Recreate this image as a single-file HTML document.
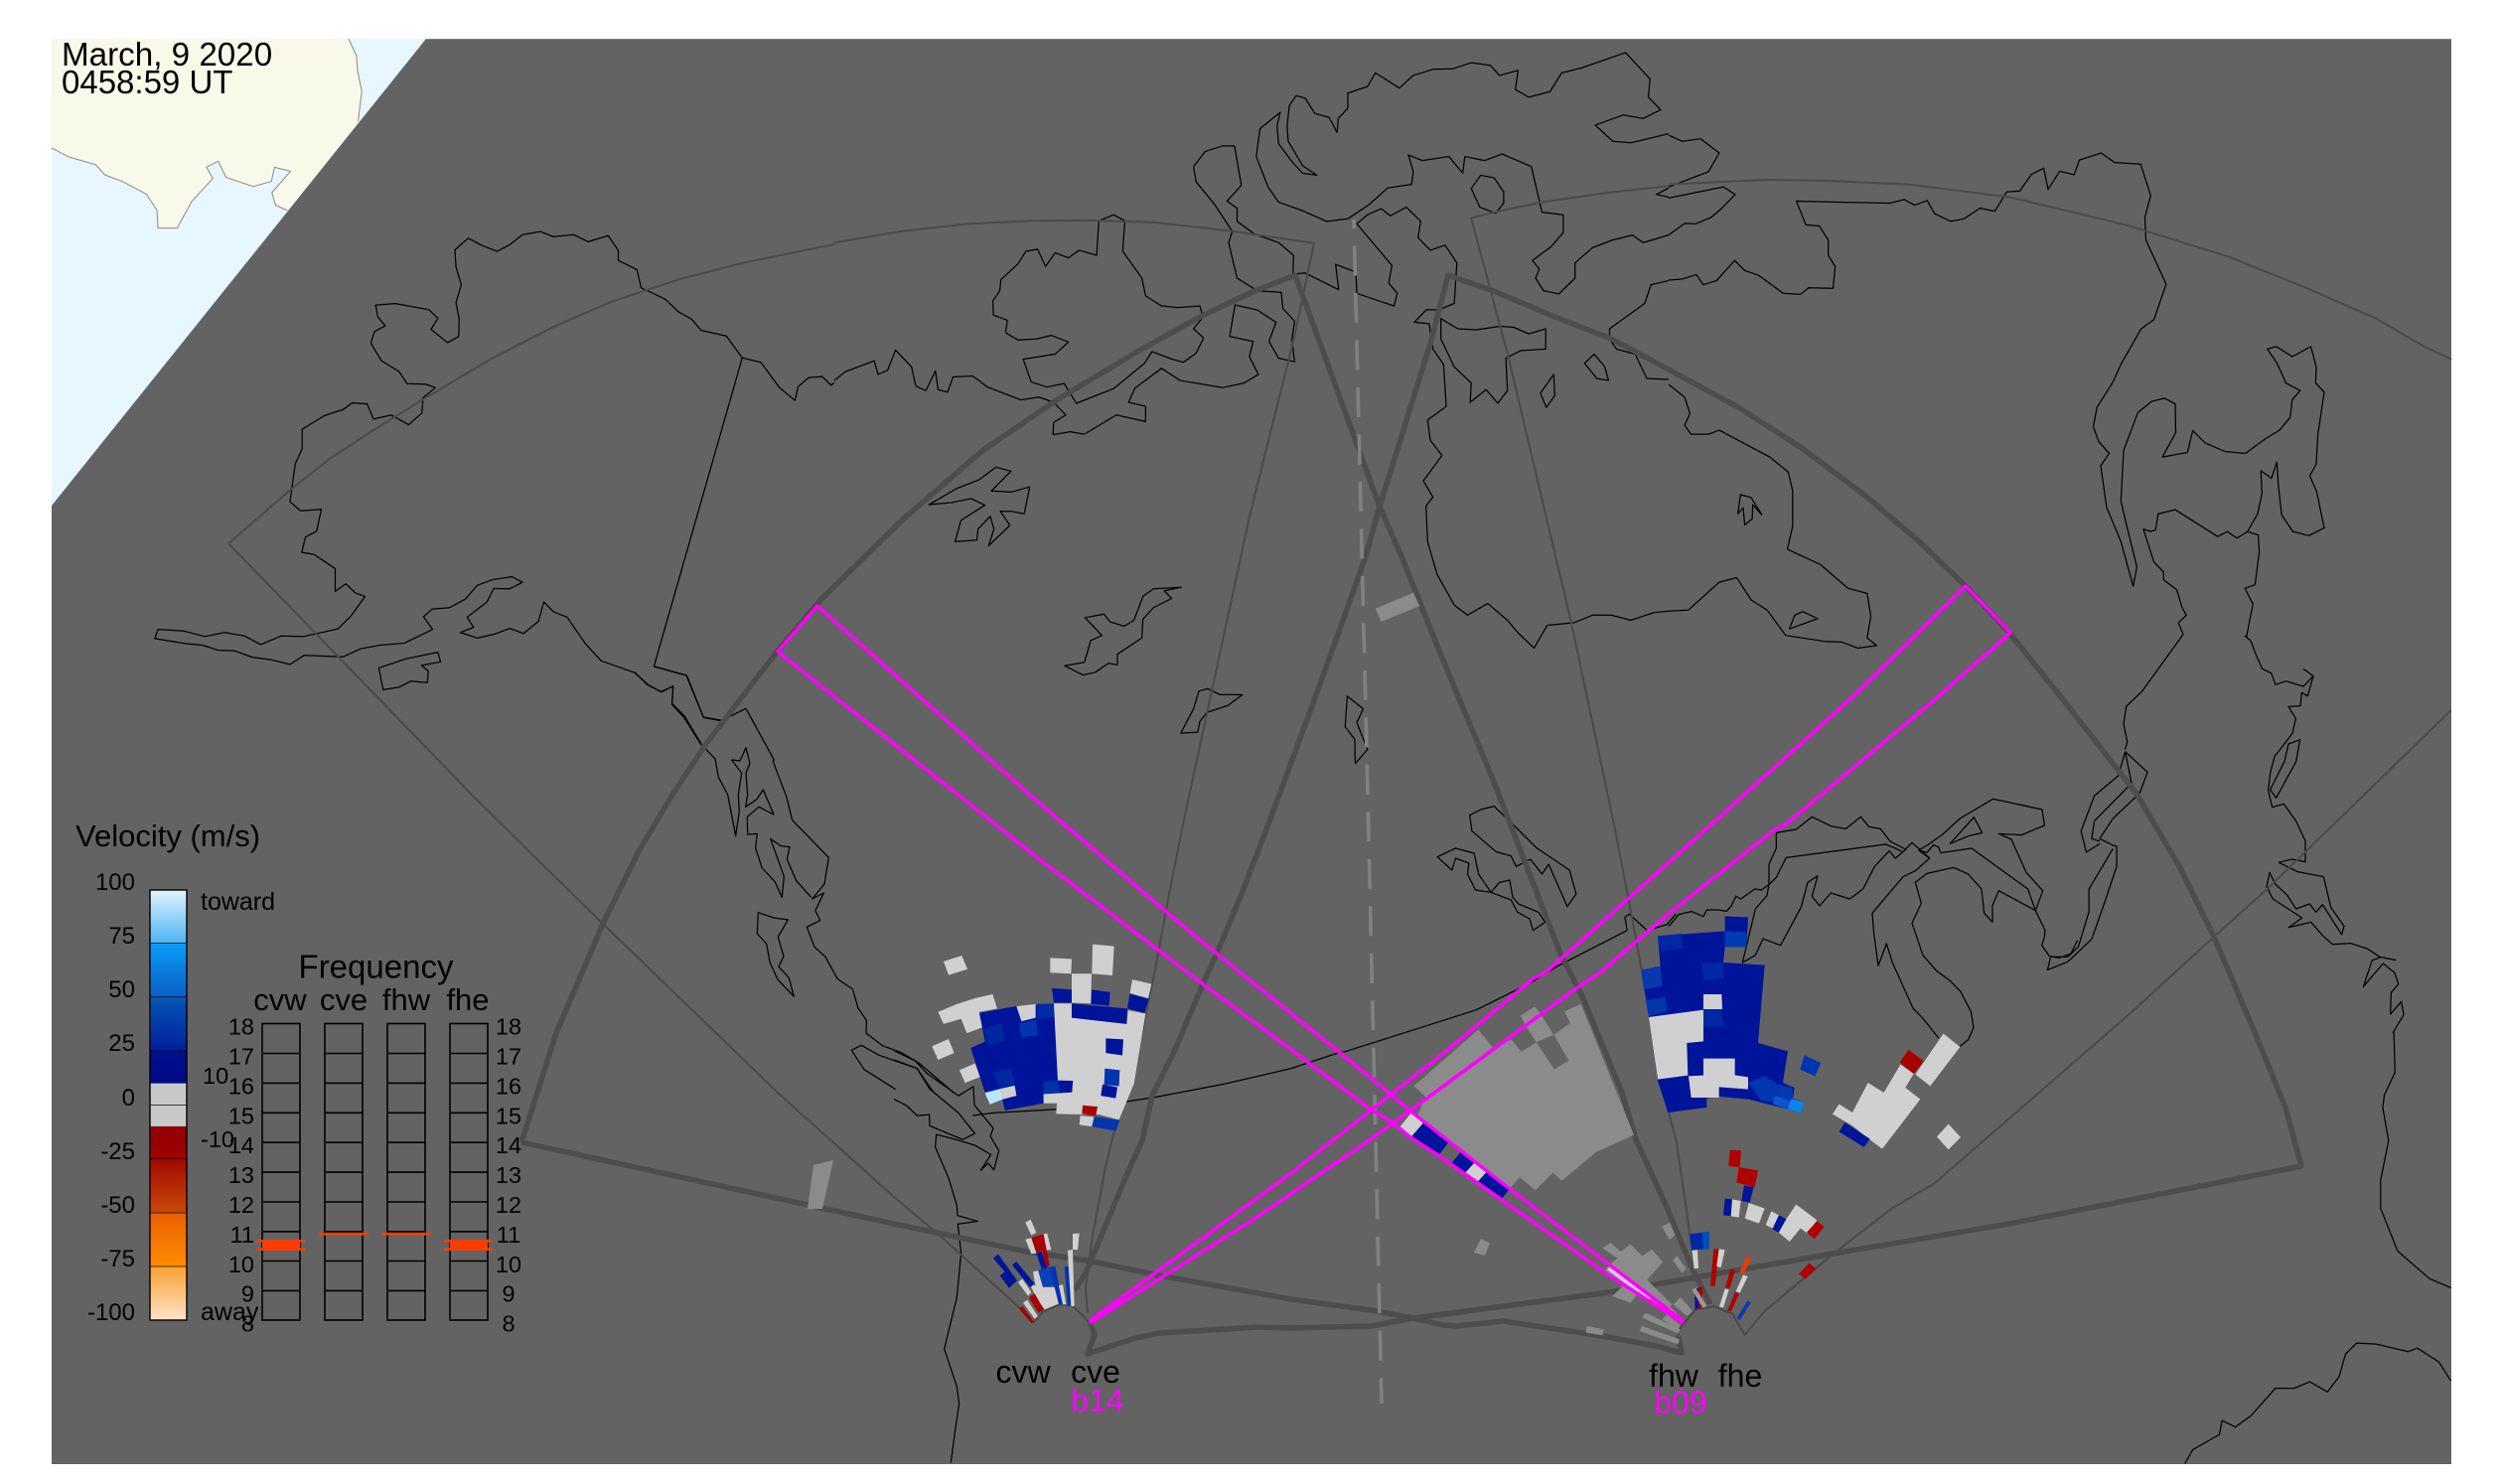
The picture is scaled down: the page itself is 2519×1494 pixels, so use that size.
<!DOCTYPE html>
<html>
<head>
<meta charset="utf-8">
<style>
html,body{margin:0;padding:0;background:#fff;width:2519px;height:1494px;overflow:hidden}
svg{display:block}
text{font-family:"Liberation Sans",sans-serif;fill:#000}
.c{fill:none;stroke:#000;stroke-width:1.25;vector-effect:non-scaling-stroke;stroke-linejoin:round}
.t{fill:none;stroke:#4a4a4a;stroke-width:2;vector-effect:non-scaling-stroke;stroke-linejoin:round}
.k{fill:none;stroke:#4d4d4d;stroke-width:5.5;stroke-linejoin:round}
.m{fill:none;stroke:#ff00ff;stroke-width:3.6;stroke-linejoin:round}
.g{fill:#d0d0d0}.n{fill:#00149a}.b{fill:#0034ae}.r{fill:#a80000}.d{fill:#8b8b8b}
.f{fill:none;stroke:#000;stroke-width:1.6}
</style>
</head>
<body>
<svg width="2519" height="1494" viewBox="0 0 2519 1494" xmlns="http://www.w3.org/2000/svg">
<defs>
<linearGradient id="cb" x1="0" y1="0" x2="0" y2="1">
<stop offset="0" stop-color="#e2f4ff"/><stop offset=".124" stop-color="#4db2f0"/><stop offset=".125" stop-color="#0a9cf8"/>
<stop offset=".249" stop-color="#0a60c4"/><stop offset=".25" stop-color="#0855b5"/><stop offset=".374" stop-color="#00209a"/>
<stop offset=".375" stop-color="#00108c"/><stop offset=".449" stop-color="#000a85"/><stop offset=".45" stop-color="#c8c8c8"/>
<stop offset=".549" stop-color="#c8c8c8"/><stop offset=".55" stop-color="#8f0000"/><stop offset=".625" stop-color="#a00000"/>
<stop offset=".626" stop-color="#a00800"/><stop offset=".749" stop-color="#c84a08"/><stop offset=".75" stop-color="#e85f00"/>
<stop offset=".874" stop-color="#ff8c00"/><stop offset=".875" stop-color="#f9a030"/><stop offset="1" stop-color="#ffe4c8"/>
</linearGradient>
</defs>

<!-- sea and land -->
<rect x="52" y="39" width="2416" height="1435" fill="#e8f6ff"/>
<g transform="scale(.5357,.5102)">
<polygon fill="#f8f9e9" points="97,76 655,76 670,110 672,140 680,180 673,240 540,415 518,405 511,380 546,338 516,330 510,358 476,368 425,350 410,318 388,330 400,352 360,398 333,450 297,450 295,415 275,383 230,358 197,345 180,325 130,310 97,292"/>
<polyline fill="none" stroke="#8a8a8a" stroke-width="1" vector-effect="non-scaling-stroke" points="655,76 670,110 672,140 680,180 673,240"/>
<polyline fill="none" stroke="#8a8a8a" stroke-width="1" vector-effect="non-scaling-stroke" points="540,415 518,405 511,380 546,338 516,330 510,358 476,368 425,350 410,318 388,330 400,352 360,398 333,450 297,450 295,415 275,383 230,358 197,345 180,325 130,310 97,292"/>
</g>
<polygon fill="#636363" points="429,39 2468,39 2468,1474 52,1474 52,509"/>
<line x1="429" y1="39.5" x2="2468" y2="39.5" stroke="#808080" stroke-width="1"/>

<!-- coast z5 -->
<g transform="scale(.5357,.5102)">
<polyline class="c" points="1568,755 1562,760 1545,743 1520,745 1500,763 1494,790 1465,765 1430,715 1395,706 1365,663 1318,652 1300,630 1275,615 1250,590 1205,568 1197,532 1162,514 1162,494 1143,465 1105,477 1078,463 1040,467 1016,457 982,463 958,483 934,496 905,484 880,470 855,493 857,527 867,562 857,597 863,630 862,664 841,676 810,650 823,628 806,611 743,599 706,602 710,625 724,643 704,654 697,677 717,712 750,733 765,757 800,758 818,765 795,785 793,815 768,838 735,819 702,827 690,797 662,795 645,808 610,820 568,847 568,885 555,915 545,990 565,1008 604,1005 595,1048 574,1060 567,1090 590,1094 630,1122 630,1167 650,1152 668,1170 686,1177 660,1215 635,1241 570,1256 528,1255 490,1272 460,1255 422,1248 385,1256 345,1245 297,1242 291,1260 350,1270 380,1273 410,1283 440,1284 475,1297 510,1302 545,1311 572,1293 645,1296 678,1280 715,1273 760,1269 813,1242 796,1217 812,1202 845,1199 875,1182 897,1155 925,1144 962,1138 982,1149 958,1162 928,1161 915,1188 878,1218 890,1238 865,1248 897,1259 930,1251 958,1240 984,1250 1012,1226 1022,1188 1040,1207 1066,1218 1100,1270 1130,1304 1192,1327 1218,1351 1242,1365 1265,1354 1263,1390 1285,1415 1318,1470"/>
<polyline class="c" points="1395,706 1229,1315 1291,1333 1322,1415 1355,1421"/>
<polygon class="c" points="712,1318 763,1300 823,1287 828,1306 792,1313 805,1324 803,1347 772,1344 750,1356 720,1361"/>
</g>

<!-- coast z9 -->
<g transform="translate(560,600) scale(.33333)">
<polyline class="c" points="297,213 393,240 445,367 498,377"/>
<polyline class="c" points="522,365 573,340 658,495 655,500 695,605 713,677 823,790 810,870 773,915 808,897 783,950 797,980 757,1000 780,1060 813,1090 850,1157 895,1187 912,1245 937,1282 936,1320 985,1358 1040,1378 1095,1410 1200,1500"/>
<polyline class="c" points="237,230 275,268 318,290 353,272 350,325 387,362 440,450 480,492 490,547 518,600 542,725 553,650 550,600 560,535 530,495 555,498 573,458 585,505 573,535 578,600 572,637 605,615 625,585 657,660 612,637 577,667 578,720 607,718 602,762 622,822 660,862 682,910 688,847 647,733 678,755 705,758 697,795 725,860 770,910"/>
<polygon class="c" points="610,956 657,972 700,978 670,1030 687,1088 672,1120 703,1153 718,1210 668,1157 645,1105 635,1050 607,1020"/>
<polyline class="c" points="1140,1500 1090,1427 975,1387 922,1357 892,1372 930,1430 1025,1490"/>
</g>

<!-- coast z2 -->
<g transform="translate(900,900) scale(.33333,.34435)">
<polyline class="c" points="0,458 65,488 100,525 195,590 240,563 243,617 300,685 291,708 317,750 302,807 285,787 262,808 293,762 245,735 195,720 128,703 125,740 165,830 190,910 192,940 253,957 193,965 203,1050 190,1180 152,1330 190,1440 197,1490 185,1568 172,1663"/>
<polyline class="c" points="0,485 70,510 108,570 195,640 240,695 245,700 208,718 108,678 107,645 70,648 40,620 0,600"/>
<polyline class="c" points="237,648 300,640 570,625 715,605 785,595 1000,555 1200,510 1356,460"/>
</g>

<!-- coast z6 -->
<g transform="translate(840,30) scale(.5357,.5102)">
<polyline class="c" points="0,692 20,675 75,653 82,680 100,672 115,632 145,665 153,703 172,712 190,673 195,710 213,715 223,685 260,683 288,705 350,730 385,725 412,735 435,760 412,775 411,799 443,793 470,798 530,760 585,773 585,743 553,735 565,707 615,668 650,692 730,706 770,697 797,680 780,645 787,615 743,605 753,543 795,553 830,577 817,615 835,648 865,655 860,610 865,575 843,550 840,518 795,515 757,490 741,420 748,398 715,345 680,300 675,270 697,240 730,229 752,229 765,307 738,338 757,352 757,378 790,403 835,420 863,445 862,482 885,480 948,513 942,463 980,478 982,520 1010,530 1052,545 1058,520 1042,500 1048,465 982,383 1002,365 1028,353 1045,367 1075,350 1102,378 1097,410 1120,435 1148,425 1170,460 1165,540 1135,553 1113,552 1090,577 1118,580 1125,630 1145,660 1150,743 1115,770 1120,810 1142,840 1107,890 1125,922 1112,940 1115,1010 1133,1075 1165,1135 1190,1155 1228,1132 1265,1165 1285,1190 1315,1220 1340,1175 1390,1170 1425,1155 1460,1155 1497,1165 1540,1150 1568,1147"/>
<polygon class="c" points="355,650 370,695 400,705 432,698 455,737 525,708 583,658 597,635 635,650 656,656 680,638 694,608 675,590 693,567 687,545 645,548 615,545 585,525 578,490 542,437 546,377 525,365 497,377 493,445 460,435 440,450 415,440 397,467 382,433 360,437 345,462 313,493 311,515 298,535 299,563 325,573 322,598 345,612 380,610 408,603 440,616 415,640"/>
<polyline class="c" points="945,203 930,173 903,165 885,135 868,130 855,150 851,190 853,220 880,268 907,287 880,283 860,260 835,225 832,190 838,163 800,195 793,250 815,310 835,340 880,357 925,378 965,373 1005,345 1040,312 1085,305 1088,280 1079,247 1105,258 1155,250 1181,283 1185,250 1222,258 1255,245 1310,270 1330,360 1370,365 1370,400 1347,428 1312,455 1325,472 1318,490 1333,515 1362,521 1392,490 1392,460 1425,430 1462,415 1500,405 1520,420 1568,405"/>
<polyline class="c" points="945,203 947,175 965,155 965,125 1002,112 1017,85 1062,115 1088,90 1125,78 1162,77 1197,65 1233,70 1250,90 1285,80 1280,118 1305,133 1345,122 1367,85 1405,75 1487,45 1533,97 1530,133 1553,158 1520,175 1483,168 1430,188 1463,220 1497,223 1568,205"/>
<polyline class="c" points="1568,690 1527,688 1505,640 1470,630 1457,610 1457,590 1490,565 1523,540 1535,503 1568,495"/>
<polyline class="c" points="1568,312 1545,325 1568,330"/>
<polygon class="c" points="1140,570 1172,590 1207,592 1250,585 1277,587 1305,600 1337,590 1337,630 1290,633 1262,648 1265,712 1247,737 1225,710 1195,735 1197,697 1165,665 1140,610"/>
<polygon class="c" points="1197,313 1215,287 1240,292 1258,320 1258,342 1243,362 1213,350"/>
<polygon class="c" points="1410,658 1428,640 1448,665 1455,692 1433,688"/>
<polygon class="c" points="1327,717 1352,680 1354,722 1338,745"/>
<polygon class="c" points="178,937 230,905 272,888 304,863 332,871 295,910 333,912 367,902 357,955 332,950 312,950 330,978 290,1018 300,985 293,960 270,985 268,1007 227,1010 238,968 283,938 257,925 220,933"/>
<polygon class="c" points="433,1255 470,1248 482,1205 503,1195 471,1160 507,1153 518,1168 545,1177 563,1165 580,1118 600,1103 652,1100 620,1107 634,1122 600,1140 580,1163 578,1200 532,1232 532,1253 515,1250 490,1268 467,1273"/>
<polygon class="c" points="651,1388 675,1340 685,1305 702,1300 725,1312 767,1312 740,1333 700,1347 687,1365 683,1386"/>
<polygon class="c" points="964,1315 994,1340 982,1367 1002,1420 979,1448 978,1400 960,1375"/>
</g>

<!-- coast z10 islands -->
<g transform="translate(1040,560) scale(.4464,.33333)">
<polygon class="c" points="985,782 1010,765 1040,755 1075,800 1135,880 1210,948 1225,1020 1205,1058 1163,930 1148,960 1122,915 1090,937 1078,905 1045,893 990,830"/>
<polygon class="c" points="912,908 953,882 995,897 1005,960 1033,1015 1052,985 1075,978 1082,1030 1095,1050 1140,1075 1155,1105 1128,1130 1120,1095 1093,1075 1078,1038 1033,1015 998,1008 980,960 983,927 953,912 945,948"/>
<polyline class="c" points="700,1498 1000,1370 1120,1290 1180,1240 1340,1130 1335,1090 1345,1081 1385,1130 1430,1112 1450,1080"/>
</g>

<!-- coast z7 -->
<g transform="translate(1680,30) scale(.5357,.5102)">
<polyline class="c" points="0,208 25,220 60,215 95,243 75,280 0,310"/>
<polyline class="c" points="0,332 103,310 125,325 100,352 80,370 50,383 30,382 0,405"/>
<polyline class="c" points="0,1147 37,1145 95,1090 128,1081 155,1125 185,1145 220,1195 295,1207 325,1208 355,1220 391,1215 373,1200 380,1157 373,1112 337,1102 285,1055 223,1025 233,980 233,910 225,873 190,843 95,790 75,798 42,798 30,780 40,757 30,725 0,700"/>
<polyline class="c" points="0,494 25,492 52,483 65,503 90,495 124,455 143,475 170,485 215,520 248,522 263,509 309,510 313,467 300,445 300,415 283,387 258,385 240,338 320,340 415,342 443,335 462,346 486,337 500,363 530,378 555,373 585,352 613,358 635,320 660,318 682,285 705,273 713,315 735,279 762,286 772,257 813,243 838,262 887,265 906,327 895,370 897,415 935,502 912,572 888,590 850,660 835,695 805,745 798,783 808,812 828,836 812,860 823,942 850,1010 873,1098 880,1060 860,975 850,930 855,830 882,755 908,733 932,727 952,738 953,795 928,843 975,834 985,791 1008,815 1045,832 1084,836 1120,808 1148,790 1168,765 1172,730 1187,712 1160,697 1143,657 1125,630 1142,625 1172,645 1207,625 1217,665 1216,697 1232,715 1220,800 1217,857 1205,880 1218,912 1232,983 1203,998 1173,990 1152,957 1146,900 1143,853 1133,885 1113,870 1115,915 1107,955 1088,990 1108,997 1110,1030 1102,1095 1083,1102 1098,1133 1086,1198"/>
<polyline class="c" points="892,985 905,990 915,987 920,955 952,947 1032,1000 1050,990 1068,1003 1088,990"/>
<polyline class="c" points="892,985 912,1050 930,1070 930,1085 955,1105 965,1140 973,1155 958,1170 967,1193 890,1305 860,1335 855,1370 862,1405 858,1420"/>
<polygon class="c" points="130,955 135,917 155,923 175,957 158,937 157,965 143,977 140,943"/>
<polygon class="c" points="227,1182 237,1155 252,1148 280,1162"/>
</g>

<!-- coast z8 -->
<g transform="translate(1680,700) scale(.5357,.5063)">
<polyline class="c" points="858,112 900,153 885,195 835,245 810,285 835,298 842,300 842,340 820,410 795,485 750,530 712,546 718,520 750,520 770,500 790,430 790,385 835,305"/>
<polyline class="c" points="858,112 845,160 800,200 775,270 785,312 810,295"/>
<polyline class="c" points="858,112 870,175 800,250 795,285 810,290"/>
<polyline class="c" points="1363,670 1365,750 1345,795 1342,820 1353,885 1338,965 1338,1020 1370,1105 1430,1160 1470,1178"/>
<polyline class="c" points="970,1528 985,1500 1035,1470 1040,1442 1065,1455 1095,1432 1140,1378 1175,1378 1205,1365 1238,1385 1260,1355 1272,1310 1293,1288 1330,1290 1390,1305 1407,1298 1447,1325 1470,1363"/>
</g>

<!-- great lakes -->
<g transform="translate(1680,780) scale(.33333)">
<polyline class="c" points="0,458 30,422 70,413 105,428 115,408 150,408 175,412 190,395 203,367 218,375 260,345 280,348 305,330 325,310 355,250 655,210 680,220 705,232"/>
<polyline class="c" points="325,175 385,165 433,127 490,155 535,163 580,127 605,157 640,163 668,200 715,225 735,205 788,252 745,290 708,308 615,418 620,480 633,577 658,510 675,565 738,705 770,738 815,795"/>
<polyline class="c" points="325,175 325,222 303,270 303,330 297,365 262,405 223,567 262,545 285,495 338,515 400,400 420,325 450,305 433,367 456,396 490,357 547,375 587,345 622,277 666,230 685,252 717,225"/>
<polyline class="c" points="755,228 785,210 830,178 880,132 980,73 1128,105 1135,153 1065,182 997,178 1035,195 1080,295 1130,350 1108,410 997,350 978,395 978,445 953,418 945,345 905,300 860,280 780,298 745,325 763,388 735,448 768,545 810,593 850,622 882,655 913,715 921,763 905,800 880,820"/>
<polyline class="c" points="788,252 755,228 780,235 800,212 815,218 822,236 915,222 1085,345 1108,410 1137,470 1135,490 1127,515 1150,548 1180,553 1215,540 1235,500"/>
<polygon class="c" points="850,208 922,128 947,175 905,185"/>
</g>

<!-- east coast -->
<g transform="translate(2120,640) scale(.33333)">
<polyline class="c" points="420,0 438,15 455,60 473,100 500,113 513,148 545,137 597,153 627,122 597,100"/>
<polyline class="c" points="627,122 610,182 592,172 588,212 552,214 574,250 564,295 510,365 497,415 491,468 503,518 538,508 575,560 603,620 603,683 562,675 523,685 580,713 658,728 680,820 720,877 713,903 655,812 635,835 616,810 575,825 547,782 512,750 495,715 486,758 505,795 593,852 553,881 620,865 655,905 685,932 740,929 790,945 828,970 877,980"/>
<polyline class="c" points="828,972 805,980 778,1060 838,990 873,1018 884,1052 862,1078 860,1143 893,1105 900,1145 867,1200"/>
<polygon class="c" points="552,327 587,314 575,380 515,490 497,465 540,380"/>
</g>

<!-- thin FOV outlines -->
<g transform="scale(.5357,.5102)">
<polyline class="t" points="429,1073 545,967 620,905 700,850 800,785 920,710 1040,645 1150,595 1280,550 1400,518 1568,482"/>
</g>
<polyline class="t" points="230,547 475,800 560,884 607,930 783,1100 900,1205 943,1241 1027,1317"/>
<polyline class="t" points="1323,245 1302,344 1258,520 1191,830 1177,900 1163,976 1150,1038 1122,1138 1113,1175 1100,1244 1093,1296 1095,1322"/>
<polyline class="t" points="1481,219 1518,357 1582,627 1625,830 1638,897 1653,977 1680,1120 1688,1150 1700,1233 1707,1290"/>
<g transform="translate(840,30) scale(.5357,.5102)">
<polyline class="t" points="0,420 130,397 250,383 370,377 480,376 600,380 745,397 902,421"/>
<polyline class="t" points="1568,308 1450,322 1330,340 1240,360 1197,371"/>
</g>
<g transform="translate(1680,30) scale(.5357,.5102)">
<polyline class="t" points="0,305 180,296 300,298 450,305 640,330 860,385 1050,447 1200,510 1330,570 1420,625 1471,650"/>
</g>
<g transform="translate(900,900) scale(.33333,.34435)">
<polyline class="t" points="420,1255 450,1222 500,1200 540,1205 583,1245 600,1265"/>
</g>
<g transform="translate(1680,700) scale(.5357,.5063)">
<polyline class="t" points="1470,30 1125,385 1025,480 870,630 500,970 420,1020 310,1110 180,1225 143,1272 120,1230 85,1215 50,1222 20,1260 15,1290"/>
</g>

<!-- thick field outlines -->
<polyline class="k" points="525,1150 560,1040 607,930 643,857 677,800 710,750 733,720 783,655 827,603 910,522 990,453 1065,402 1145,354 1210,318 1263,293 1304,277 1389,510 1411,560 1451,660 1504,787 1571,960 1593,1003 1633,1100 1647,1147 1677,1213 1705,1280 1722,1313"/>
<polyline class="k" points="525,1150 900,1232 943,1241 1033,1260 1100,1270 1167,1284 1300,1308 1380,1319 1423,1327 1453,1334 1467,1335 1513,1330 1560,1337 1613,1345 1667,1355 1693,1362 1690,1345"/>
<polyline class="k" points="1097,1330 1102,1344 1095,1363 1140,1348 1167,1342 1267,1336 1300,1337 1380,1335 1423,1327 1613,1302 1667,1293 1800,1270 1846,1262 2023,1232 2317,1174 2301,1115 2272,1044 2229,943 2194,872 2151,799 2076,703 2023,637 1980,591 1932,545 1878,499 1814,451 1750,410 1680,372 1622,341 1563,318 1504,293 1458,277 1440,346 1389,510 1375,560 1344,647 1326,697 1277,830 1250,900 1225,960 1210,993 1183,1057 1160,1103 1150,1148 1133,1186 1093,1282 1082,1299"/>

<!-- dashed centre line -->
<polyline points="1363,221 1377,800 1391,1413" fill="none" stroke="#818181" stroke-width="3.6" stroke-dasharray="30 17.5" stroke-dashoffset="21"/>

<!-- gray field -->
<polygon class="d" points="819,1173 839,1168 828,1217 813,1217"/>
<g transform="translate(1040,560) scale(.4464,.33333)">
<polygon class="d" points="773,158 858,110 872,150 785,198"/>
</g>
<g transform="translate(1380,980) scale(.33333)">
<polygon class="d" points="130,340 325,170 370,225 425,200 455,237 500,208 555,290 598,263 553,185 603,150 585,115 635,92 795,488 680,540 578,625 550,602 497,655 450,615 420,650 235,510 205,548 125,470 165,372"/>
<polygon class="d" points="453,128 495,100 518,130 553,185 500,208 470,160"/>
<polygon class="d" points="333,801 360,815 345,852 312,843"/>
<polygon class="d" points="700,830 725,813 755,840 785,818 820,853 850,833 882,872 835,925 910,1000 895,1020 840,985 815,955 785,995 730,975 765,940 705,900 720,880 745,860"/>
<polygon class="d" points="880,765 903,752 920,790 902,805"/>
<polygon class="d" points="912,865 925,852 953,892 940,905"/>
<polygon class="d" points="915,1000 935,978 973,1020 955,1035"/>
<polygon class="d" points="820,1040 830,1025 935,1075 930,1088"/>
<polygon class="d" points="812,1080 820,1065 933,1105 928,1120"/>
<polygon class="d" points="880,1045 895,1030 935,1062 930,1075"/>
<polygon class="d" points="653,1065 705,1075 700,1093 650,1085"/>
<polygon class="g" points="715,895 730,880 850,975 840,990"/>
<polygon class="g" points="895,1020 905,1010 945,1045 940,1055"/>
<polygon class="g" points="87,465 125,418 160,450 123,492"/>
<polygon class="n" points="125,492 160,450 235,510 205,550"/>
<polygon class="n" points="243,575 275,535 315,570 283,605"/>
<polygon class="g" points="283,605 315,570 350,600 318,635"/>
<polygon class="n" points="318,635 350,600 420,650 393,685"/>
</g>

<!-- left cluster -->
<g transform="translate(900,900) scale(.33333,.34435)">
<polygon class="g" points="150,197 205,180 222,220 165,237"/>
<polygon class="g" points="472,187 537,190 535,233 472,230"/>
<polygon class="g" points="600,147 665,153 660,238 598,233"/>
<polygon class="g" points="537,233 597,233 595,320 537,318"/>
<polygon class="g" points="720,250 778,263 768,305 713,290"/>
<polygon class="g" points="133,345 190,322 245,305 298,293 312,335 258,345 268,390 220,407 203,365 150,380"/>
<polygon class="g" points="115,445 165,424 182,465 133,485"/>
<polygon class="g" points="198,515 245,495 260,535 215,552"/>
<polygon class="n" points="258,348 368,328 483,320 495,545 541,546 538,580 452,585 452,612 335,633 327,598 365,590 358,562 320,570 275,580 232,450 275,432"/>
<polygon class="g" points="370,328 428,322 428,362 385,372"/>
<polygon class="b" points="378,378 430,368 435,412 385,420"/>
<polygon fill="#002aa5" points="432,322 483,320 483,360 432,365"/>
<polygon fill="#0026a0" points="270,395 325,378 335,428 285,445"/>
<polygon fill="#0026a0" points="300,520 355,510 365,555 320,570"/>
<polygon fill="#0030a8" points="452,550 495,545 500,582 452,585"/>
<polygon fill="#b8e8ff" points="275,582 320,570 330,600 290,615"/>
<polygon class="g" points="320,570 365,560 370,590 330,600"/>
<polygon class="g" points="483,320 537,320 537,362 703,380 707,340 760,350 725,555 680,660 620,645 528,644 490,643 492,612 452,612 452,585 538,580 541,546 495,545"/>
<polygon class="n" points="477,275 537,280 537,318 483,318"/>
<polygon class="n" points="597,280 653,287 650,327 595,322"/>
<polygon class="n" points="537,320 705,335 703,380 537,362"/>
<polygon class="n" points="712,292 770,307 757,348 705,335"/>
<polygon class="n" points="640,422 693,425 690,472 640,465"/>
<polygon class="b" points="637,510 682,515 680,562 635,558"/>
<polygon class="n" points="630,557 675,565 670,597 625,590"/>
<polygon class="r" points="570,618 615,622 610,648 568,643"/>
<polygon class="g" points="563,648 605,652 598,680 560,675"/>
<polygon class="b" points="605,650 682,662 670,693 598,680"/>
<!-- cvw/cve fan -->
<polygon class="g" points="397,960 413,952 430,990 415,998"/>
<polygon class="g" points="397,1010 415,1005 430,1050 415,1052"/>
<polygon class="g" points="450,995 463,992 475,1040 460,1042"/>
<polygon class="r" points="415,1005 440,997 452,1040 430,1048"/>
<polygon class="r" points="440,997 452,995 470,1085 458,1095"/>
<polygon class="g" points="540,993 560,992 555,1040 540,1040"/>
<polygon class="g" points="525,1042 540,1040 545,1205 533,1205"/>
<polygon class="b" points="515,1090 527,1088 535,1205 525,1205"/>
<polygon class="n" points="430,1050 445,1045 470,1115 455,1120"/>
<polygon class="n" points="300,1065 315,1053 372,1130 348,1152 320,1115 335,1105"/>
<polygon class="g" points="400,1120 430,1150 495,1150 505,1195 455,1215 430,1180"/>
<polygon class="n" points="357,1085 370,1075 425,1140 412,1150"/>
<polygon class="g" points="420,1105 437,1100 460,1150 430,1160"/>
<polygon fill="#0a40b8" points="435,1100 470,1090 485,1145 450,1150"/>
<polygon class="b" points="470,1090 487,1088 510,1200 498,1200"/>
<polygon class="g" points="498,1145 510,1142 520,1200 510,1200"/>
<polygon class="g" points="375,1135 388,1125 415,1165 405,1175"/>
<polygon class="r" points="408,1180 425,1168 453,1215 437,1225"/>
<polygon class="g" points="390,1195 403,1187 435,1235 425,1242"/>
<polygon class="r" points="377,1212 388,1205 423,1250 415,1255"/>
</g>

<!-- right cluster -->
<g transform="translate(1620,900) scale(.33333)">
<polygon class="n" points="147,127 350,112 350,67 420,70 415,160 350,160 345,207 470,215 450,450 540,475 525,570 560,585 555,618 590,630 578,662 540,650 420,620 335,612 295,617 295,645 178,660 147,565 120,370 97,230 155,218"/>
<polygon fill="#003ab5" points="350,112 415,115 415,160 350,160"/>
<polygon fill="#0838b0" points="97,230 155,218 160,278 105,290"/>
<polygon fill="#0335ab" points="110,320 170,312 175,355 120,370"/>
<polygon fill="#0028a5" points="280,210 345,207 345,255 285,260"/>
<polygon fill="#0028a5" points="147,127 218,120 222,165 155,170"/>
<polygon fill="#0028a5" points="285,350 340,350 345,400 285,400"/>
<polygon fill="#0035b0" points="420,570 470,550 510,575 500,630 460,625"/>
<polygon fill="#0338b0" points="510,575 555,585 555,618 500,630"/>
<polygon fill="#0a55d0" points="500,610 550,625 540,650 495,635"/>
<polygon fill="#0a85f0" points="550,618 590,630 578,662 540,650"/>
<polygon class="g" points="120,372 285,350 285,445 235,450 238,548 147,560"/>
<polygon class="g" points="285,303 340,303 342,348 285,348"/>
<polygon class="g" points="285,497 380,497 380,547 420,553 420,590 332,583 332,615 248,615 240,550 285,548"/>
<polygon class="b" points="590,487 640,510 622,550 577,530"/>
<polygon class="g" points="1010,422 1060,462 970,580 925,545"/>
<polygon class="r" points="905,470 950,505 920,543 878,508"/>
<polygon class="g" points="880,515 920,543 895,585 940,620 825,770 785,740 735,700 675,665 695,635 735,660 782,570 830,600"/>
<polygon class="n" points="712,690 788,740 770,765 695,718"/>
<polygon class="g" points="1025,695 1062,735 1025,772 990,733"/>
<polygon fill="#b00000" points="365,773 399,775 395,825 361,822"/>
<polygon fill="#b00000" points="392,825 450,835 440,885 385,872"/>
<polygon class="n" points="408,880 437,885 425,932 400,927"/>
<polygon class="n" points="350,920 372,922 368,973 345,970"/>
<polygon class="g" points="372,922 398,927 392,977 368,973"/>
<polygon class="g" points="422,933 470,950 453,995 410,980"/>
<polygon class="g" points="490,958 513,970 495,1010 473,1000"/>
<polygon class="g" points="565,938 628,985 600,1025 578,1010 545,1050 512,1022 535,982"/>
<polygon class="n" points="513,970 535,982 512,1023 493,1012"/>
<polygon fill="#b00000" points="628,988 650,1005 620,1042 597,1022"/>
<polygon fill="#b00000" points="605,1115 625,1133 592,1163 573,1147"/>
<polygon fill="#0028a5" points="243,1027 302,1020 302,1072 250,1075"/>
<polygon fill="#0050c0" points="282,1022 302,1020 302,1072 284,1073"/>
<polygon class="g" points="250,1077 267,1075 270,1130 257,1132"/>
<polygon fill="#b00000" points="316,1072 332,1072 320,1185 306,1183"/>
<polygon class="g" points="332,1072 350,1075 338,1128 325,1125"/>
<polygon fill="#e63c00" points="417,1092 430,1098 407,1147 394,1143"/>
<polygon fill="#b00000" points="367,1133 381,1137 364,1192 351,1188"/>
<polygon class="g" points="405,1150 419,1155 395,1205 383,1200"/>
<polygon class="g" points="350,1192 362,1195 345,1250 333,1246"/>
<polygon fill="#b00000" points="380,1203 393,1207 368,1262 358,1258"/>
<polygon fill="#0a3ab0" points="418,1228 428,1235 395,1287 386,1280"/>
<polygon class="n" points="258,1195 270,1190 275,1250 260,1255"/>
<polygon fill="#b00000" points="270,1188 283,1187 280,1252 270,1250"/>
<polygon fill="#9a9a9a" points="250,1195 262,1190 295,1245 283,1250"/>
</g>

<!-- magenta beams -->
<polyline class="m" points="1097,1330 1300,1181 1455,1059 1544,985 1555,980 1723,830 1867,700 1979,590 2024,637 1953,700 1798,830 1787,835 1680,920 1610,980 1587,995 1500,1059 1420,1118 1380,1147 1260,1229 1097,1332"/>
<polyline class="m" points="1695,1330 1620,1273 1520,1197 1460,1150 1422,1120 1380,1085 1348,1059 1225,960 1173,917 1040,803 823,610 783,656 1040,860 1210,990 1303,1059 1380,1117 1402,1130 1420,1145 1448,1163 1512,1208 1617,1282 1695,1332"/>

<!-- header text -->
<text x="62" y="66" font-size="33.2">March, 9 2020</text>
<text x="62" y="94" font-size="33">0458:59 UT</text>

<!-- velocity colour bar -->
<text x="76" y="852" font-size="31">Velocity (m/s)</text>
<rect x="151" y="896" width="37" height="433" fill="url(#cb)" stroke="#000" stroke-width="1.4"/>
<g stroke="#000" stroke-width="1" opacity=".7">
<line x1="151" y1="949.5" x2="188" y2="949.5"/><line x1="151" y1="1003.5" x2="188" y2="1003.5"/><line x1="151" y1="1058" x2="188" y2="1058"/><line x1="151" y1="1112.5" x2="188" y2="1112.5"/><line x1="151" y1="1166.5" x2="188" y2="1166.5"/><line x1="151" y1="1221" x2="188" y2="1221"/><line x1="151" y1="1275" x2="188" y2="1275"/>
</g>
<g font-size="24" text-anchor="end">
<text x="136" y="896">100</text><text x="136" y="950">75</text><text x="136" y="1004">50</text><text x="136" y="1058">25</text><text x="136" y="1113">0</text><text x="136" y="1167">-25</text><text x="136" y="1221">-50</text><text x="136" y="1275">-75</text><text x="136" y="1329">-100</text>
</g>
<g font-size="25">
<text x="202" y="916">toward</text><text x="202" y="1329">away</text>
</g>
<text x="204" y="1091" font-size="23.5">10</text>
<text x="202" y="1155" font-size="23.5">-10</text>

<!-- frequency panels -->
<text x="378.5" y="984.5" font-size="33" text-anchor="middle">Frequency</text>
<g font-size="31" text-anchor="middle">
<text x="282" y="1017">cvw</text><text x="346" y="1017">cve</text><text x="409" y="1017">fhw</text><text x="471" y="1017">fhe</text>
</g>
<g class="f">
<rect class="f" x="264" y="1030.5" width="38" height="298.5"/><rect class="f" x="327" y="1030.5" width="38" height="298.5"/><rect class="f" x="390" y="1030.5" width="38" height="298.5"/><rect class="f" x="453" y="1030.5" width="38" height="298.5"/>
</g>
<path class="f" d="M264 1060.5H302M264 1090.4H302M264 1120.3H302M264 1150.2H302M264 1180.1H302M264 1210H302M264 1239.9H302M264 1269.5H302M264 1299.4H302M327 1060.5H365M327 1090.4H365M327 1120.3H365M327 1150.2H365M327 1180.1H365M327 1210H365M327 1239.9H365M327 1269.5H365M327 1299.4H365M390 1060.5H428M390 1090.4H428M390 1120.3H428M390 1150.2H428M390 1180.1H428M390 1210H428M390 1239.9H428M390 1269.5H428M390 1299.4H428M453 1060.5H491M453 1090.4H491M453 1120.3H491M453 1150.2H491M453 1180.1H491M453 1210H491M453 1239.9H491M453 1269.5H491M453 1299.4H491"/>
<g fill="#ff3c00">
<rect x="264" y="1248" width="38" height="11"/><rect x="258" y="1248" width="49" height="2.5"/><rect x="258" y="1256.5" width="49" height="2.5"/>
<rect x="453" y="1248" width="38" height="11"/><rect x="447" y="1248" width="49" height="2.5"/><rect x="447" y="1256.5" width="49" height="2.5"/>
<rect x="321.5" y="1241" width="49.5" height="2.5"/><rect x="384" y="1241" width="50" height="2.5"/>
</g>
<g font-size="23.5" text-anchor="end">
<text x="256" y="1041.6">18</text><text x="256" y="1071.5">17</text><text x="256" y="1101.4">16</text><text x="256" y="1131.3">15</text><text x="256" y="1161.2">14</text><text x="256" y="1191.1">13</text><text x="256" y="1221">12</text><text x="256" y="1250.9">11</text><text x="256" y="1280.8">10</text><text x="256" y="1310.7">9</text><text x="256" y="1340.6">8</text>
</g>
<g font-size="23.5" text-anchor="middle">
<text x="512" y="1041.6">18</text><text x="512" y="1071.5">17</text><text x="512" y="1101.4">16</text><text x="512" y="1131.3">15</text><text x="512" y="1161.2">14</text><text x="512" y="1191.1">13</text><text x="512" y="1221">12</text><text x="512" y="1250.9">11</text><text x="512" y="1280.8">10</text><text x="512" y="1310.7">9</text><text x="512" y="1340.6">8</text>
</g>

<!-- radar labels -->
<g font-size="32" text-anchor="middle">
<text x="1030" y="1392">cvw</text><text x="1103" y="1392">cve</text><text x="1685" y="1396">fhw</text><text x="1752" y="1396">fhe</text>
</g>
<g font-size="32" text-anchor="middle">
<text x="1105" y="1421" style="fill:#ff00ff">b14</text><text x="1692" y="1423" style="fill:#ff00ff">b09</text>
</g>
</svg>
</body>
</html>
